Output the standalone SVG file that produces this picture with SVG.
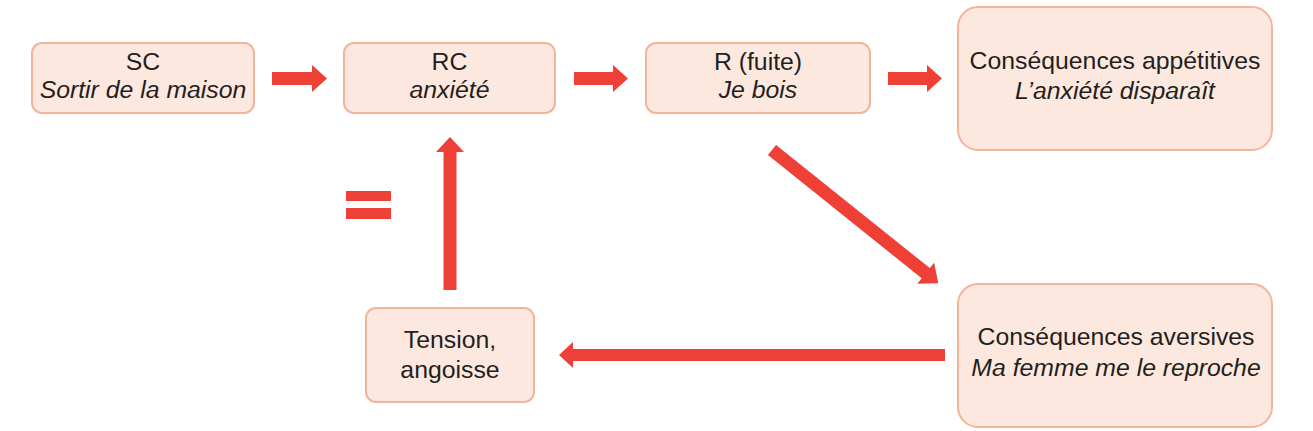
<svg xmlns="http://www.w3.org/2000/svg" width="1313" height="431" viewBox="0 0 1313 431">
<style>
.box{fill:#FDE8DF;stroke:#F3B49A;stroke-width:2}
.t{font-family:"Liberation Sans",Arial,sans-serif;font-size:24.8px;fill:#231F20;text-anchor:middle}
.i{font-style:italic}
.arr{fill:#EE4036}
</style>
<rect width="1313" height="431" fill="#fff"/>
<g id="sc">
<rect class="box" x="32" y="43" width="222" height="70" rx="10"/>
<text class="t" x="143" y="70">SC</text>
<text class="t i" x="143" y="98">Sortir de la maison</text>
</g>
<g id="rc">
<rect class="box" x="344" y="43" width="211" height="70" rx="10"/>
<text class="t" x="449.5" y="70">RC</text>
<text class="t i" x="449.5" y="98">anxiété</text>
</g>
<g id="r">
<rect class="box" x="646" y="43" width="224" height="70" rx="10"/>
<text class="t" x="758" y="70">R (fuite)</text>
<text class="t i" x="758" y="98">Je bois</text>
</g>
<g id="app">
<rect class="box" x="958" y="7" width="314" height="143" rx="20"/>
<text class="t" x="1115" y="69">Conséquences appétitives</text>
<text class="t i" x="1115" y="99">L’anxiété disparaît</text>
</g>
<g id="avers">
<rect class="box" x="958" y="284" width="314" height="143" rx="20"/>
<text class="t" x="1116" y="345">Conséquences aversives</text>
<text class="t i" x="1116" y="376">Ma femme me le reproche</text>
</g>
<g id="tension">
<rect class="box" x="366" y="308" width="168" height="94" rx="10"/>
<text class="t" x="450" y="348">Tension,</text>
<text class="t" x="450" y="378">angoisse</text>
</g>
<g id="connectors">
<polygon class="arr" points="272,72 312,72 312,65 327,78.5 312,92 312,85 272,85"/>
<polygon class="arr" points="574,72 613,72 613,65 628,78.5 613,92 613,85 574,85"/>
<polygon class="arr" points="888,72 927,72 927,65 942,78.5 927,92 927,85 888,85"/>
<polygon class="arr" transform="translate(772,150) rotate(38.7)" points="0,-6.5 197,-6.5 197,-13.5 213,0 197,13.5 197,6.5 0,6.5"/>
<polygon class="arr" points="945,349 573,349 573,342 559,355 573,368 573,361 945,361"/>
<polygon class="arr" points="443.5,290 443.5,152 436,152 450,137 464,152 456.5,152 456.5,290"/>
</g>
<g id="equals">
<rect class="arr" x="346" y="191" width="45" height="10"/>
<rect class="arr" x="346" y="208" width="45" height="11"/>
</g>
</svg>
